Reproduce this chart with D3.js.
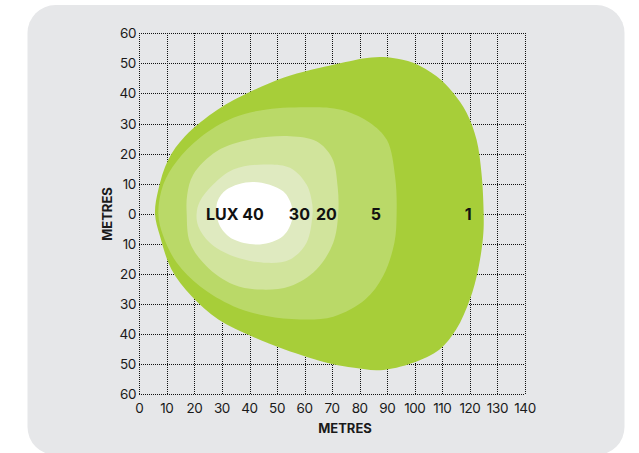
<!DOCTYPE html>
<html>
<head>
<meta charset="utf-8">
<script src="https://cdn.jsdelivr.net/npm/d3@7"></script>
<style>
  body { margin: 0; background: #fff; }
  svg { display: block; }
  text { font-family: Inter, "Noto Sans", sans-serif; fill: #1a1a1a; }
</style>
</head>
<body>
<div id="chart"></div>
<script>
// Isolux contours, points in metres [distance, lateral]
var lux1 = [[5.7,0],[6.9,8],[10.5,18],[16.6,25.8],[28.5,34.7],[40.8,40.8],[52.8,45.4],[64,48.2],[70,49.5],[76.4,50.7],[81.2,51.6],[87.3,52.1],[92,51.8],[99.4,50.2],[107.9,45.7],[113.9,40.2],[118.8,33.6],[122.4,24.7],[124.2,13.6],[125,0],[124.8,-7.4],[123,-18.5],[120,-28.5],[115,-38.5],[109,-45.1],[99.4,-49.5],[87.3,-52],[78,-51.2],[69.2,-49.8],[52.8,-45.1],[40.8,-40.7],[28.7,-35.1],[19,-27.4],[11.7,-18.5],[7.5,-7.4]];
var lux5 = [[6.9,0],[8.7,9.7],[13.6,17.5],[22,25.3],[34.1,31.9],[46.2,34.7],[61.9,35.4],[69.2,35.2],[75.2,34.1],[83.7,30.3],[89.9,24.5],[92.9,12],[93.4,0],[92.6,-9.6],[88.5,-20.7],[82,-28.5],[70.4,-34.2],[58.3,-35.1],[46.2,-34],[34.1,-30.7],[22,-24.1],[13.6,-16.3],[8.7,-7.4]];
var lux20 = [[17.2,0],[17.4,6.4],[19.6,13.1],[28.1,20.8],[40.2,24.7],[54.7,25.8],[64.3,24.1],[70,18.5],[72,9],[72.2,0],[70.4,-9.6],[64.3,-18.5],[54.7,-24.1],[43.8,-25.2],[34.1,-23.5],[24.4,-17.4],[18.4,-9.6]];
var lux30 = [[20.8,0],[22,4.2],[26.8,9.7],[34.1,14.7],[45,16.4],[54.7,15.3],[60.7,9.7],[62.8,3],[62.8,-1],[60.7,-9.6],[54.7,-15.2],[46.2,-16.3],[34.1,-14.1],[25.6,-9.6],[21.4,-4.1]];
var lux40 = [[28.1,0],[28.4,4.2],[31.7,8.1],[41.3,10.6],[52.2,7.5],[55.5,2],[55.5,-1.9],[52.2,-7.4],[43.8,-10.2],[34.1,-8.5],[29.3,-4.1]];

var contours = [lux1, lux5, lux20, lux30, lux40];
var fills = ["#a7ce39", "#bad968", "#d1e49c", "#dfeac0", "#ffffff"];

var luxLabels = ["LUX 40", "30", "20", "5", "1"];
var luxLabelX = [34.7, 58.1, 67.9, 85.9, 119.4];

var xTicks = d3.range(0, 141, 10);
var yTicks = d3.range(-60, 61, 10);

var width = 639, height = 453;
var svg = d3.select("#chart").append("svg")
    .attr("width", width)
    .attr("height", height);

// grey card behind the chart
svg.append("rect")
    .attr("x", 27.5).attr("y", 5)
    .attr("width", 597).attr("height", 450)
    .attr("rx", 28).attr("ry", 28)
    .attr("fill", "#e6e7e9");

var x = d3.scaleLinear().domain([0, 140]).range([139.3, 525]);
var y = d3.scaleLinear().domain([-60, 60]).range([394.3, 33.3]);

// dotted grid
var grid = svg.append("g")
    .attr("stroke", "#111")
    .attr("stroke-width", 1)
    .attr("stroke-dasharray", "1,1")
    .attr("shape-rendering", "crispEdges");

grid.selectAll("line.v").data(xTicks).enter().append("line")
    .attr("class", "v")
    .attr("x1", function(d){ return Math.round(x(d)) + 0.5; })
    .attr("x2", function(d){ return Math.round(x(d)) + 0.5; })
    .attr("y1", y(60)).attr("y2", y(-60));

grid.selectAll("line.h").data(yTicks).enter().append("line")
    .attr("class", "h")
    .attr("y1", function(d){ return Math.round(y(d)) + 0.5; })
    .attr("y2", function(d){ return Math.round(y(d)) + 0.5; })
    .attr("x1", x(0)).attr("x2", x(140));

// isolux areas, outermost first
var line = d3.line()
    .x(function(d){ return x(d[0]); })
    .y(function(d){ return y(d[1]); })
    .curve(d3.curveCatmullRomClosed.alpha(0.5));

svg.selectAll("path.lux").data(contours).enter().append("path")
    .attr("class", "lux")
    .attr("d", line)
    .attr("fill", function(d, i){ return fills[i]; });

// axis labels
svg.selectAll("text.xt").data(xTicks).enter().append("text")
    .attr("class", "xt")
    .attr("x", function(d){ return x(d); })
    .attr("y", 413)
    .attr("text-anchor", "middle")
    .style("font-size", "13.5px")
    .style("letter-spacing", "-0.4px")
    .text(function(d){ return d; });

svg.selectAll("text.yt").data(yTicks).enter().append("text")
    .attr("class", "yt")
    .attr("x", 136)
    .attr("y", function(d){ return y(d) + 5; })
    .attr("text-anchor", "end")
    .style("font-size", "13.5px")
    .style("letter-spacing", "-0.4px")
    .text(function(d){ return Math.abs(d); });

svg.append("text")
    .attr("x", 345).attr("y", 433)
    .attr("text-anchor", "middle")
    .style("font-size", "13px")
    .style("font-weight", "bold")
    .text("METRES");

svg.append("text")
    .attr("transform", "translate(112,214) rotate(-90)")
    .attr("text-anchor", "middle")
    .style("font-size", "13px")
    .style("font-weight", "bold")
    .text("METRES");

// lux values
svg.selectAll("text.lbl").data(luxLabels).enter().append("text")
    .attr("class", "lbl")
    .attr("x", function(d, i){ return x(luxLabelX[i]); })
    .attr("y", y(0) + 6)
    .attr("text-anchor", "middle")
    .style("font-size", "16px")
    .style("font-weight", "bold")
    .style("fill", "#111")
    .text(function(d){ return d; });
</script>
</body>
</html>
